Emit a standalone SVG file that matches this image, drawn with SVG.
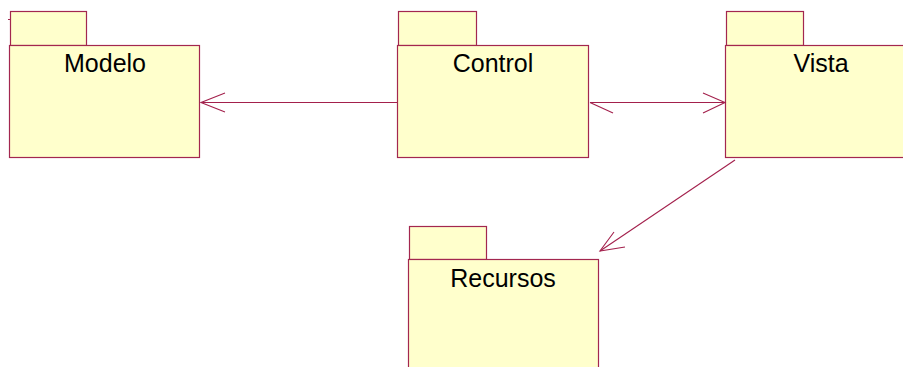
<svg xmlns="http://www.w3.org/2000/svg" width="903" height="367" viewBox="0 0 903 367">
  <style>
    .pkg { fill: #FFFFCC; stroke: #A3274F; stroke-width: 1.2; }
    .lbl { font-family: "Liberation Sans", Arial, sans-serif; font-size: 25px; fill: #000; text-anchor: middle; }
    .conn { fill: none; stroke: #A3204C; stroke-width: 1.1; }
  </style>
  <rect width="903" height="367" fill="#FFFFFF"/>

  <g id="Modelo">
    <rect class="pkg" x="10.5" y="11.5" width="76" height="34"/>
    <rect class="pkg" x="9.5" y="45.5" width="190" height="112"/>
    <line x1="8" y1="19.5" x2="11" y2="19.5" stroke="#A3274F" stroke-width="1"/>
    <text class="lbl" x="105" y="72">Modelo</text>
  </g>

  <g id="Control">
    <rect class="pkg" x="398.5" y="11.5" width="78" height="34"/>
    <rect class="pkg" x="397.5" y="45.5" width="191" height="112"/>
    <text class="lbl" x="493" y="72">Control</text>
  </g>

  <g id="Vista">
    <rect class="pkg" x="726.5" y="11.5" width="77" height="34"/>
    <rect class="pkg" x="725.5" y="45.5" width="190" height="112"/>
    <text class="lbl" x="821" y="72">Vista</text>
  </g>

  <g id="Recursos">
    <rect class="pkg" x="409.5" y="226.5" width="77" height="33"/>
    <rect class="pkg" x="408.5" y="259.5" width="190" height="112"/>
    <text class="lbl" x="503" y="287">Recursos</text>
  </g>

  <g id="connectors">
    <!-- Control to Modelo -->
    <line class="conn" x1="397" y1="102.5" x2="201" y2="102.5"/>
    <polyline class="conn" points="225,93 201,102.5 225,112"/>
    <!-- Control to Vista -->
    <line class="conn" x1="590" y1="102.5" x2="725" y2="102.5"/>
    <polyline class="conn" points="703,93 725,102.5 703,113"/>
    <line class="conn" x1="590" y1="102.5" x2="613" y2="113"/>
    <!-- Vista to Recursos -->
    <line class="conn" x1="735" y1="160" x2="600" y2="251"/>
    <polyline class="conn" points="614,232 600,251 625,247"/>
  </g>
</svg>
